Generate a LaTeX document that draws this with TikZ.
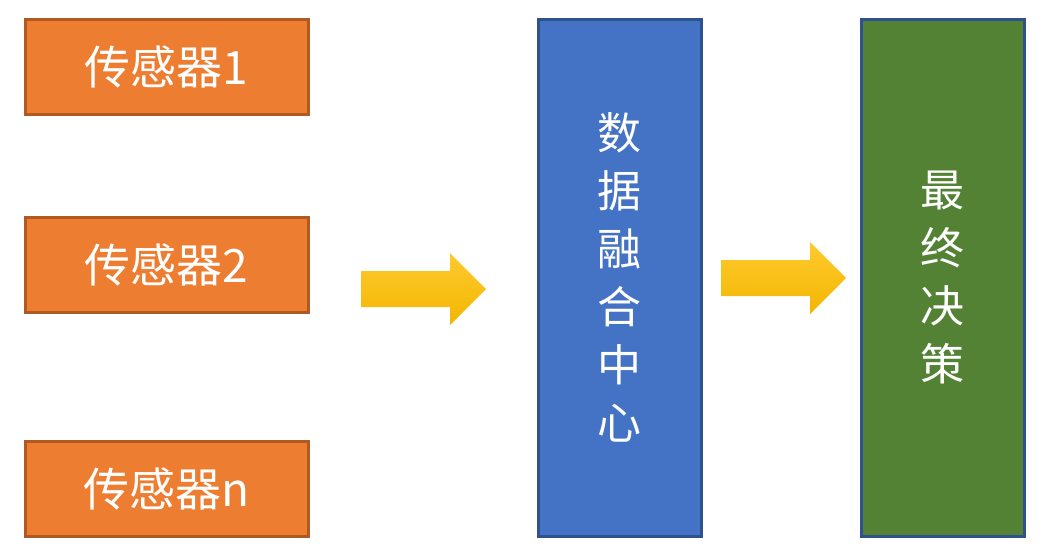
\documentclass[tikz,border=0pt]{standalone}
\usepackage{fontspec}
\newfontfamily\cjk{Noto Sans CJK SC}
\definecolor{orfill}{HTML}{ED7D31}
\definecolor{ordraw}{HTML}{AE5A21}
\definecolor{blfill}{HTML}{4472C4}
\definecolor{bldraw}{HTML}{2F528F}
\definecolor{grfill}{HTML}{548235}
\definecolor{artop}{HTML}{FFCA30}
\definecolor{armid}{HTML}{FFC000}
\definecolor{arbot}{HTML}{F2B600}
\tikzset{
  sensor/.style={draw=ordraw, fill=orfill, line width=3pt, minimum width=283pt, minimum height=95pt, inner sep=0pt, text=white, font=\cjk\fontsize{46}{50}\selectfont},
  tallbox/.style={draw=bldraw, line width=3pt, minimum width=163pt, minimum height=517pt, inner sep=0pt},
  vtext/.style={text=white, align=center, inner sep=0pt, font=\cjk\fontsize{44}{58}\selectfont},
  blockarrow/.style={top color=artop, middle color=armid, bottom color=arbot, draw=none}
}
\begin{document}
\begin{tikzpicture}[x=1pt,y=-1pt]
\useasboundingbox (0,0) rectangle (1049,558);
\node[sensor] (s1) at (166.5,67) {传感器1};
\node[sensor] (s2) at (166.5,264.5) {传感器2};
\node[sensor] (sn) at (166.5,488.5) {传感器n};
\node[tallbox, fill=blfill] (fuse) at (619.5,277.5) {};
\node[vtext] (fusetxt) at (fuse.center) {数\\据\\融\\合\\中\\心};
\node[tallbox, fill=grfill] (dec) at (942.5,277.5) {};
\node[vtext] (dectxt) at (dec.center) {最\\终\\决\\策};
\shade[blockarrow] (361,271) -- (450,271) -- (450,253) -- (486,289) -- (450,325) -- (450,307) -- (361,307) -- cycle;
\shade[blockarrow] (721,260) -- (810,260) -- (810,242) -- (846,278) -- (810,314) -- (810,296) -- (721,296) -- cycle;
\end{tikzpicture}
\end{document}
